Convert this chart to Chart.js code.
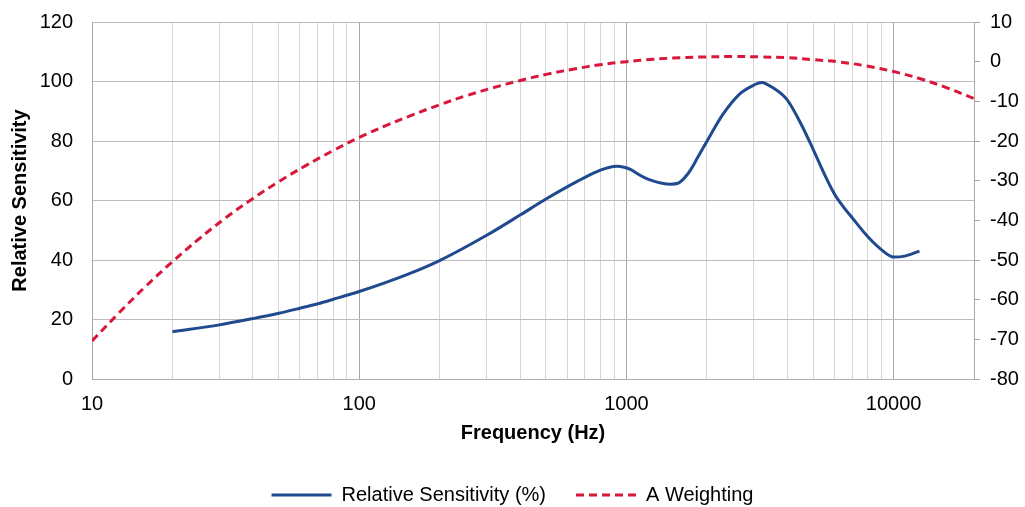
<!DOCTYPE html>
<html>
<head>
<meta charset="utf-8">
<script src="https://cdn.jsdelivr.net/npm/chart.js@4"></script>
<style>
  html, body { margin: 0; padding: 0; background: #fff; }
  #wrap { width: 1025px; height: 507px; }
</style>
</head>
<body>
<div id="wrap"><canvas id="sensChart"></canvas></div>
<script>
// relative sensitivity curve (left axis, %)
var sensFreq = [20, 30, 40, 50, 60, 70, 80, 100, 150, 200, 300, 400, 500, 600, 700, 800, 860, 920,
	980, 1040, 1100, 1180, 1265, 1360, 1460, 1560, 1650, 1740, 1850, 2000, 2300, 2670, 3000, 3200, 3560, 4000, 4500, 5000,
	5500, 6000, 6500, 7000, 8000, 9000, 10000, 11000, 12500];
var sensValue = [15.9, 18.2, 20.3, 22.1, 23.8, 25.3, 26.8, 29.4, 35.0, 39.8, 48.3, 55.1, 60.5, 64.6, 67.8, 70.2, 71.1, 71.5,
	71.2, 70.4, 69.0, 67.5, 66.5, 65.8, 65.5, 65.8, 67.6, 70.3, 74.5, 79.8, 89.0, 96.0, 98.8, 99.7, 97.7, 93.8, 85.8, 77.2,
	69.0, 62.3, 57.8, 54.2, 47.9, 43.5, 41.0, 41.3, 43.0];

// A weighting curve (right axis, dB), third-octave centres
var aFreq = [10, 12.59, 15.85, 19.95, 25.12, 31.62, 39.81, 50.12, 63.10, 79.43, 100, 125.9, 158.5, 199.5, 251.2, 316.2,
	398.1, 501.2, 631.0, 794.3, 1000, 1259, 1585, 1995, 2512, 3162, 3981, 5012, 6310, 7943, 10000, 12590, 15850, 20000];
var aValue = [-70.4, -63.4, -56.7, -50.5, -44.7, -39.4, -34.6, -30.2, -26.2, -22.5, -19.1, -16.1, -13.4, -10.9, -8.6, -6.6,
	-4.8, -3.2, -1.9, -0.8, 0, 0.6, 1.0, 1.2, 1.3, 1.2, 1.0, 0.5, -0.1, -1.1, -2.5, -4.3, -6.6, -9.3];

// x grid: 1..9 per decade, labels only on the decades
var decades = [10, 100, 1000, 10000];
var xTicks = [];
decades.forEach(function(d) {
	for (var m = 1; m <= 9; m++) {
		if (d * m <= 20000) xTicks.push(d * m);
	}
});
xTicks.push(20000);

function isDecade(v) {
	return decades.indexOf(v) !== -1;
}
function toPoints(xs, ys) {
	return xs.map(function(x, i) { return {x: x, y: ys[i]}; });
}

Chart.defaults.font.family = "'Liberation Sans', Arial, sans-serif";
Chart.defaults.font.size = 20;
Chart.defaults.color = '#000';

// legend sits lower than chart.js puts it
var legendHeight = {
	id: 'legendHeight',
	beforeLayout: function(chart) {
		var lg = chart.legend;
		if (lg && !lg._fixed) {
			var fit = lg.fit;
			lg.fit = function() {
				fit.call(this);
				this.height = 52;
			};
			lg._fixed = true;
		}
	}
};

var config = {
	type: 'line',
	data: {
		datasets: [
			{
				label: 'Relative Sensitivity (%)',
				data: toPoints(sensFreq, sensValue),
				yAxisID: 'y',
				borderColor: '#1f4a8f',
				backgroundColor: '#1f4a8f',
				borderWidth: 3,
				pointRadius: 0,
				cubicInterpolationMode: 'monotone',
			},
			{
				label: 'A Weighting',
				data: toPoints(aFreq, aValue),
				yAxisID: 'y2',
				borderColor: '#d8173a',
				backgroundColor: '#d8173a',
				borderWidth: 3,
				borderDash: [8, 5],
				pointRadius: 0,
				tension: 0.4,
			}
		]
	},
	options: {
		responsive: true,
		maintainAspectRatio: false,
		animation: false,
		layout: { padding: { top: 22, right: 0, left: 0, bottom: 0 } },
		plugins: {
			tooltip: { enabled: false },
			legend: {
				display: true,
				position: 'bottom',
				labels: {
					usePointStyle: true,
					pointStyle: 'line',
					pointStyleWidth: 60,
					padding: 30,
					color: '#000',
					font: { size: 20 },
					generateLabels: function(chart) {
						var items = Chart.defaults.plugins.legend.labels.generateLabels(chart);
						items.forEach(function(it) {
							var ds = chart.data.datasets[it.datasetIndex];
							it.lineDash = ds.borderDash || [];
							it.lineWidth = 3;
							it.strokeStyle = ds.borderColor;
						});
						return items;
					},
				},
			},
		},
		scales: {
			x: {
				type: 'logarithmic',
				position: 'bottom',
				min: 10,
				max: 20000,
				afterBuildTicks: function(scale) {
					scale.ticks = xTicks.map(function(v) { return {value: v}; });
				},
				afterFit: function(scale) { scale.height = 76; },
				grid: {
					color: function(ctx) {
						return ctx.tick && isDecade(ctx.tick.value) ? '#a8a8a8' : '#d6d6d6';
					},
					drawTicks: false,
				},
				border: { color: '#b0b0b0' },
				ticks: {
					autoSkip: false,
					maxRotation: 0,
					padding: 13,
					callback: function(v) { return isDecade(v) ? String(v) : ''; },
				},
				title: {
					display: true,
					text: 'Frequency (Hz)',
					font: { size: 20, weight: 'bold' },
					padding: { top: 0, bottom: 10 },
				},
			},
			y: {
				position: 'left',
				min: 0,
				max: 120,
				afterFit: function(scale) { scale.width = 92; },
				// invisible tick marks hold the labels off the axis
				grid: { color: '#bcbcbc', drawTicks: true, tickLength: 19, tickColor: 'rgba(0,0,0,0)' },
				border: { color: '#a8a8a8' },
				ticks: { stepSize: 20, padding: 0 },
				title: {
					display: true,
					text: 'Relative Sensitivity',
					font: { size: 20, weight: 'bold' },
					padding: { top: 8, bottom: 0 },
				},
			},
			y2: {
				position: 'right',
				min: -80,
				max: 10,
				afterFit: function(scale) { scale.width = 51; },
				grid: { drawOnChartArea: false, drawTicks: true, tickLength: 6, color: '#a8a8a8' },
				border: { color: '#a8a8a8' },
				ticks: { stepSize: 10, padding: 10 },
			},
		},
	},
	plugins: [legendHeight],
};

window.onload = function() {
	var ctx = document.getElementById('sensChart').getContext('2d');
	window.sensChart = new Chart(ctx, config);
};
</script>
</body>
</html>
